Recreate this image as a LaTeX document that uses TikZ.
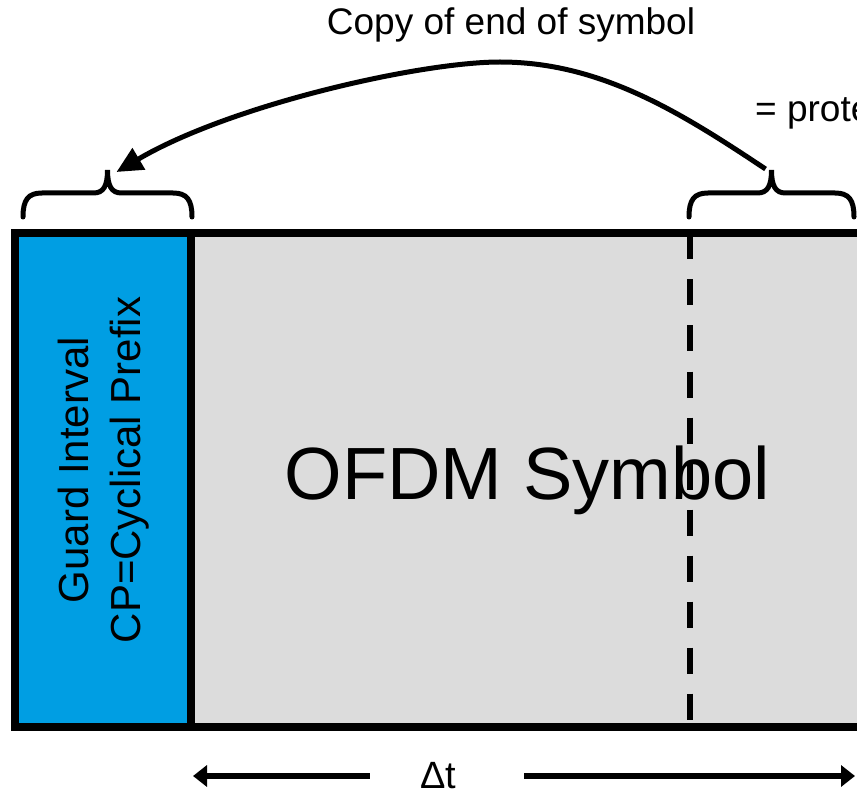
\documentclass[tikz,border=0pt]{standalone}
\usepackage{fontspec}
\setmainfont{Liberation Sans}
\usetikzlibrary{arrows.meta, calc}

\definecolor{cpblue}{RGB}{0,158,227}
\definecolor{symgrey}{RGB}{220,220,220}

% curly brace between two x positions, tip named #3
\newcommand{\curlybrace}[3]{%
  \coordinate (#3) at ({(#1+#2)/2},170);
  \draw[curly] (#1,217) .. controls (#1,200) and ({#1+5},193) .. ({#1+19},193)
    -- ({(#1+#2)/2-14},193) .. controls ({(#1+#2)/2-4},193) and ({(#1+#2)/2},186) .. (#3)
    .. controls ({(#1+#2)/2},186) and ({(#1+#2)/2+4},193) .. ({(#1+#2)/2+14},193)
    -- ({#2-19},193) .. controls ({#2-5},193) and (#2,200) .. (#2,217);
}

\begin{document}
\begin{tikzpicture}[
    x=1pt, y=-1pt,
    font=\fontsize{37}{44}\selectfont,
    frame/.style={draw, line width=8pt, minimum height=493.5pt, outer sep=0pt, inner sep=0pt},
    cpbox/.style={frame, fill=cpblue, minimum width=175.5pt},
    symbox/.style={frame, fill=symgrey, minimum width=673.5pt},
    curly/.style={line width=5pt, line cap=round},
    cutline/.style={line width=6pt, dash pattern=on 26pt off 20pt},
    copyarrow/.style={-{Triangle[length=26pt, width=24pt]}, line width=5pt},
    timearrow/.style={-{Triangle[length=14pt, width=21pt]}, line width=6pt}
]
\useasboundingbox (0,0) rectangle (857,794);
\clip (0,0) rectangle (857,794);

\node[symbox, anchor=north west, font=\fontsize{74}{88}\selectfont] (sym) at (190.5,233.5) {OFDM Symbol};
\node[cpbox, anchor=north east] (cp) at (sym.north west) {};
\node[rotate=90, align=center, font=\fontsize{42}{52}\selectfont] (guard) at (104,470) {Guard Interval\\CP=Cyclical Prefix};

\coordinate (cut) at (690,233.5);
\draw[cutline] (cut) -- (cut |- sym.south);

\curlybrace{23}{192}{gtip}
\curlybrace{689}{854}{etip}

\node[anchor=base] (copy) at (511,35) {Copy of end of symbol};
\node[anchor=base west, inner sep=0pt] (prot) at (755,122) {= prote};

\coordinate (copystart) at ($(etip)+(-6,-1)$);
\coordinate (copyend) at ($(gtip)+(9,2)$);
\draw[copyarrow] (copystart) .. controls (680,112) and (600,62) .. (500,62)
  .. controls (420,62) and (230,105) .. (copyend);

\node[anchor=base, inner sep=0pt, font=\fontsize{38}{46}\selectfont] (dt) at (438,788) {Δt};
\coordinate (dtl) at (193,776);
\coordinate (dtr) at (855,776);
\draw[timearrow] ([xshift=-50pt]dt.west |- dtl) -- (dtl);
\draw[timearrow] ([xshift=68pt]dt.east |- dtr) -- (dtr);
\end{tikzpicture}
\end{document}
